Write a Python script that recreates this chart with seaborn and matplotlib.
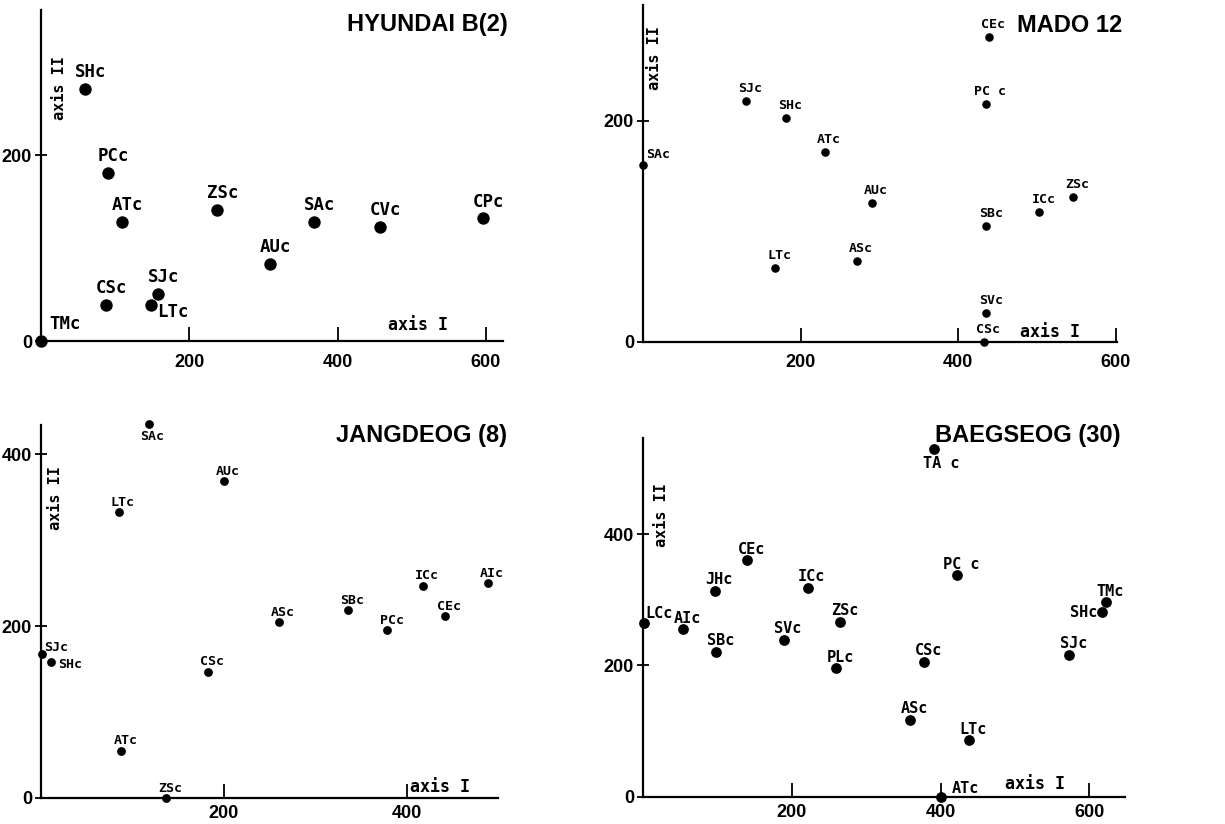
import matplotlib
matplotlib.use("Agg")
import matplotlib.pyplot as plt
import seaborn as sns
import pandas as pd

# ---- data (axis I, axis II) ----
hy_labels = ["TMc", "SHc", "PCc", "ATc", "ZSc", "AUc", "SAc", "CVc", "CPc", "CSc", "SJc", "LTc"]
hy_x = [0, 59, 90, 109, 238, 309, 368, 457, 596, 87, 158, 148]
hy_y = [0, 271, 181, 128, 141, 83, 128, 123, 132, 39, 51, 39]

md_labels = ["SAc", "SJc", "SHc", "ATc", "AUc", "LTc", "ASc", "CEc", "PC c", "SBc", "ICc", "ZSc", "SVc", "CSc"]
md_x = [0, 130, 181, 231, 290, 168, 271, 439, 435, 436, 503, 546, 436, 433]
md_y = [160, 218, 203, 172, 126, 67, 73, 276, 215, 105, 118, 131, 26, 0]

jd_labels = ["SAc", "AUc", "LTc", "SJc", "SHc", "CSc", "ATc", "ZSc", "ASc", "SBc", "PCc", "ICc", "CEc", "AIc"]
jd_x = [118, 200, 85, 1, 11, 183, 88, 137, 260, 336, 379, 418, 442, 489]
jd_y = [435, 369, 333, 167, 158, 147, 55, 0, 205, 219, 195, 247, 212, 250]

bs_labels = ["TA c", "CEc", "JHc", "ICc", "PC c", "TMc", "SHc", "LCc", "AIc", "SBc",
             "SVc", "ZSc", "PLc", "CSc", "SJc", "ASc", "LTc", "ATc"]
bs_x = [391, 140, 96, 221, 422, 622, 617, 1, 54, 98, 189, 265, 259, 378, 573, 359, 438, 401]
bs_y = [530, 360, 314, 318, 337, 296, 281, 264, 255, 221, 239, 266, 196, 206, 216, 117, 86, 0]

sns.set_style("ticks")
plt.rcParams["font.family"] = ["Liberation Sans", "DejaVu Sans"]
plt.rcParams["text.color"] = "black"
plt.rcParams["xtick.color"] = "black"
plt.rcParams["ytick.color"] = "black"
plt.rcParams["axes.edgecolor"] = "black"

fig = plt.figure(figsize=(12.25, 8.24), dpi=100)

panels = [
    dict(title="HYUNDAI B(2)", labels=hy_labels, x=hy_x, y=hy_y,
         rect=[0.0335, 0.586, 0.377, 0.402], xlim=623, ylim=356,
         xt=[200, 400, 600], yt=[0, 200], s=80, fs=12.5, xpad=9,
         off=(4, 12), special={"LTc": (16, -5), "TMc": (17, 12)},
         tpos=(1.01, 0.955), a1=(0.816, 0.048), a2=(0.041, 0.764)),
    dict(title="MADO 12", labels=md_labels, x=md_x, y=md_y,
         rect=[0.525, 0.585, 0.387, 0.409], xlim=602, ylim=305,
         xt=[200, 400, 600], yt=[0, 200], s=38, fs=9.5, xpad=9,
         off=(3, 9), special={"SAc": (11, 8)},
         tpos=(1.01, 0.94), a1=(0.859, 0.03), a2=(0.025, 0.843)),
    dict(title="JANGDEOG (8)", labels=jd_labels, x=jd_x, y=jd_y,
         rect=[0.0335, 0.0316, 0.373, 0.4527], xlim=500, ylim=434,
         xt=[200, 400], yt=[0, 200, 400], s=40, fs=9.5, xpad=5,
         off=(3, 7), special={"SAc": (2, -9), "SJc": (10, 5), "SHc": (14, -2)},
         tpos=(1.02, 0.973), a1=(0.873, 0.03), a2=(0.031, 0.804)),
    dict(title="BAEGSEOG (30)", labels=bs_labels, x=bs_x, y=bs_y,
         rect=[0.525, 0.0328, 0.3935, 0.4356], xlim=648, ylim=546,
         xt=[200, 400, 600], yt=[0, 200, 400], s=60, fs=11, xpad=5,
         off=(3, 8), special={"TA c": (5, -11), "SHc": (-13, 0), "LCc": (11, 7), "ATc": (17, 6)},
         tpos=(0.99, 1.006), a1=(0.813, 0.035), a2=(0.039, 0.785)),
]

mono = ["DejaVu Sans Mono"]

for p in panels:
    ax = fig.add_axes(p["rect"])
    df = pd.DataFrame({"axis I": p["x"], "axis II": p["y"], "site": p["labels"]})
    sns.scatterplot(data=df, x="axis I", y="axis II", ax=ax, color="black",
                    s=p["s"], linewidth=0, clip_on=False, zorder=5)
    for lab, xv, yv in zip(df["site"], df["axis I"], df["axis II"]):
        dx, dy = p["special"].get(lab, p["off"])
        ax.annotate(lab, (xv, yv), xytext=(dx, dy), textcoords="offset points",
                    ha="center", va="center", fontsize=p["fs"], fontweight="bold",
                    family=mono, annotation_clip=False)
    ax.set_xlim(0, p["xlim"])
    ax.set_ylim(0, p["ylim"])
    ax.set_xticks(p["xt"])
    ax.set_yticks(p["yt"])
    ax.set_xlabel("")
    ax.set_ylabel("")
    sns.despine(ax=ax)
    for side in ["left", "bottom"]:
        ax.spines[side].set_linewidth(1.6)
        ax.spines[side].set_color("black")
    ax.tick_params(axis="x", direction="in", length=10, width=1.3, pad=p["xpad"],
                   labelsize=13, colors="black")
    ax.tick_params(axis="y", direction="inout", length=9, width=1.3, pad=2,
                   labelsize=13, colors="black")
    for t in ax.get_xticklabels() + ax.get_yticklabels():
        t.set_fontweight("bold")
    ax.text(p["tpos"][0], p["tpos"][1], p["title"], transform=ax.transAxes,
            ha="right", va="center", fontsize=17, fontweight="bold")
    ax.text(p["a1"][0], p["a1"][1], "axis I", transform=ax.transAxes,
            ha="center", va="center", fontsize=12, fontweight="bold", family=mono)
    ax.text(p["a2"][0], p["a2"][1], "axis II", transform=ax.transAxes, rotation=90,
            ha="center", va="center", fontsize=11, fontweight="bold", family=mono)
    ax.patch.set_alpha(0)

fig.savefig("out.png", dpi=100)
